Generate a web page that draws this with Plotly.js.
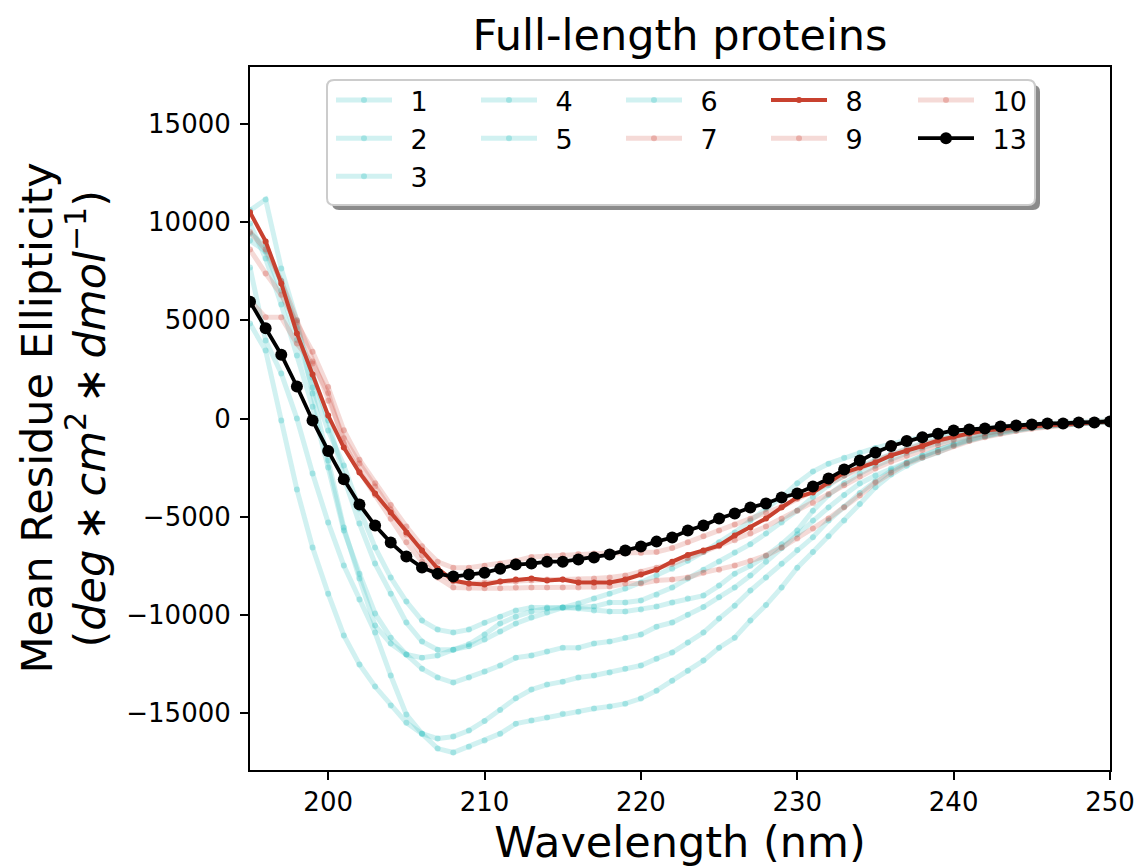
<!DOCTYPE html>
<html>
<head>
<meta charset="utf-8">
<script src="https://cdn.plot.ly/plotly-3.0.1.min.js"></script>
<style>html,body{margin:0;padding:0;background:#fff;}#chart{width:1138px;height:867px;}</style>
</head>
<body>
<div id="chart"></div>
<script>
const wavelength = [195,196,197,198,199,200,201,202,203,204,205,206,207,208,209,210,211,212,213,214,215,216,217,218,219,220,221,222,223,224,225,226,227,228,229,230,231,232,233,234,235,236,237,238,239,240,241,242,243,244,245,246,247,248,249,250];

const s1 = [9070,8500,6500,4000,1580,-610,-2390,-4600,-6570,-8100,-9320,-10290,-10750,-10900,-10750,-10400,-10090,-9780,-9630,-9630,-9630,-9420,-9170,-8920,-8660,-8350,-8000,-7650,-7250,-6800,-6300,-5800,-5200,-4600,-4000,-3300,-2700,-2300,-2000,-1750,-1500,-1280,-1100,-950,-800,-680,-580,-500,-420,-360,-300,-250,-220,-180,-150,-120];
const s2 = [9420,8800,7000,4640,2090,-100,-3000,-5350,-7390,-8920,-10390,-11360,-11770,-11770,-11500,-11000,-10440,-10090,-9830,-9680,-9630,-9630,-9580,-9370,-9370,-9270,-8970,-8610,-8150,-7700,-7280,-6830,-6400,-5860,-5300,-4690,-4000,-3400,-2900,-2450,-2100,-1800,-1500,-1250,-1050,-880,-740,-620,-520,-440,-370,-310,-260,-220,-180,-150];
const s3 = [10600,11150,7640,4990,1270,-2140,-5550,-8150,-10540,-11460,-12020,-12180,-12070,-11770,-11600,-11260,-10850,-10440,-10140,-9880,-9630,-9680,-9780,-9830,-9830,-9730,-9580,-9370,-9170,-9020,-8510,-7900,-7500,-7000,-6400,-5700,-4700,-3900,-3300,-2800,-2400,-2050,-1750,-1480,-1250,-1050,-880,-740,-620,-520,-430,-360,-300,-250,-200,-160];
const s4 = [9930,8150,5800,3210,600,-2500,-5700,-7900,-9930,-11160,-12020,-12740,-13190,-13450,-13190,-12890,-12580,-12180,-12070,-11870,-11670,-11670,-11460,-11360,-11160,-11000,-10600,-10390,-10000,-9600,-9100,-8600,-8000,-7300,-6600,-5900,-5200,-4530,-3900,-3310,-2900,-2550,-2240,-1900,-1600,-1330,-1100,-900,-740,-600,-480,-390,-320,-260,-210,-160];
const s5 = [7690,3970,2290,0,-2800,-5300,-7490,-9220,-10900,-13090,-15080,-16050,-16300,-16200,-15890,-15400,-14850,-14250,-13800,-13550,-13400,-13190,-13090,-12940,-12740,-12580,-12230,-11920,-11410,-10900,-10190,-9530,-8760,-8100,-7400,-6700,-6050,-5200,-4500,-3800,-3200,-2650,-2250,-1900,-1600,-1300,-1050,-850,-700,-560,-450,-370,-300,-250,-200,-150];
const s6 = [4840,3460,-100,-3620,-6570,-8920,-11050,-12530,-13650,-14620,-15490,-16050,-16810,-17010,-16710,-16400,-16050,-15540,-15380,-15230,-15030,-14930,-14770,-14670,-14520,-14260,-13860,-13350,-12840,-12330,-11670,-11160,-10290,-9500,-8600,-7600,-6800,-6000,-5200,-4350,-3500,-2850,-2400,-2000,-1730,-1380,-1120,-900,-720,-580,-470,-380,-310,-250,-200,-150];
const s7 = [8600,7390,6300,4900,3400,1600,-600,-2100,-3300,-4400,-5500,-6500,-7300,-7600,-7600,-7500,-7400,-7250,-7050,-7000,-6950,-6900,-6880,-6850,-6850,-6850,-6800,-6600,-6300,-6000,-5700,-5400,-5100,-4800,-4500,-4100,-3700,-3300,-2900,-2500,-2150,-1850,-1550,-1300,-1100,-900,-750,-620,-520,-430,-360,-300,-250,-200,-170,-130];
const s8 = [10500,9020,6880,4330,2240,150,-1480,-2750,-3820,-4790,-5800,-6720,-7640,-8250,-8400,-8450,-8300,-8200,-8150,-8250,-8200,-8350,-8350,-8350,-8200,-7950,-7700,-7290,-6950,-6720,-6470,-5960,-5550,-5090,-4530,-4020,-3770,-3260,-2750,-2500,-2240,-1880,-1650,-1400,-1120,-920,-760,-610,-510,-460,-400,-350,-300,-250,-200,-150];
const s9 = [9500,8600,7000,5000,2900,900,-1000,-2290,-3460,-4640,-5910,-6980,-7850,-8300,-8400,-8350,-8300,-8300,-8250,-8200,-8200,-8200,-8150,-8100,-8000,-7800,-7600,-7400,-7100,-6800,-6500,-6200,-5850,-5500,-5100,-4700,-4300,-3850,-3400,-2950,-2550,-2200,-1900,-1600,-1350,-1100,-900,-750,-620,-520,-430,-360,-300,-250,-200,-160];
const s10 = [6000,5150,5150,3820,2800,1300,-1270,-2700,-3900,-5100,-6300,-7300,-8100,-8610,-8650,-8650,-8650,-8600,-8610,-8600,-8610,-8600,-8580,-8560,-8400,-8400,-8250,-8200,-8100,-7850,-7700,-7490,-7250,-6980,-6570,-6110,-5600,-5090,-4530,-3920,-3260,-2750,-2290,-1990,-1700,-1400,-1150,-950,-780,-640,-520,-420,-340,-270,-210,-160];
const s13 = [5950,4600,3250,1630,-100,-1650,-3100,-4380,-5450,-6320,-7030,-7590,-7900,-8050,-7950,-7850,-7650,-7440,-7390,-7290,-7290,-7180,-7080,-6930,-6720,-6520,-6270,-6060,-5700,-5450,-5090,-4840,-4530,-4330,-4020,-3820,-3460,-3060,-2600,-2140,-1730,-1400,-1150,-950,-780,-610,-560,-510,-410,-360,-310,-250,-250,-200,-200,-150];

const seriesNames = ['1','2','3','4','5','6','7','8','9','10','13'];
const seriesValues = [s1,s2,s3,s4,s5,s6,s7,s8,s9,s10,s13];
const legendColumn = {'1':0,'2':0,'3':0,'4':1,'5':1,'6':2,'7':2,'8':3,'9':3,'10':4,'13':4};

const yTickVals = [-15000,-10000,-5000,0,5000,10000,15000];
const yTickText = ['−15000','−10000','−5000','0','5000','10000','15000'];
const xTickVals = [200,210,220,230,240,250];
const titleText = 'Full-length proteins';
const xTitleText = 'Wavelength (nm)';
const yTitleLine1 = 'Mean Residue Ellipticity';
const yTitleLine2 = '(<i>deg</i>\u2009∗\u2009<i>cm</i><sup>2</sup>\u2009∗\u2009<i>dmol</i><sup>−1</sup>)';

const CYAN_LINE = 'rgba(64,196,196,0.24)';
const CYAN_MARK = 'rgba(64,196,196,0.34)';
const PINK_LINE = 'rgba(205,70,55,0.2)';
const PINK_MARK = 'rgba(205,70,55,0.3)';
const RED = '#c8412f';

function styleFor(name){
  const n = parseInt(name,10);
  if (n <= 6) return {line:{color:CYAN_LINE,width:5}, marker:{color:CYAN_MARK,size:6}};
  if (n === 8) return {line:{color:RED,width:4}, marker:{color:RED,size:6}};
  if (n === 13) return {line:{color:'#000000',width:3.8}, marker:{color:'#000000',size:12}};
  return {line:{color:PINK_LINE,width:5}, marker:{color:PINK_MARK,size:6}};
}

const legendIds = ['legend','legend2','legend3','legend4','legend5'];

const traces = seriesNames.map((name,i)=>{
  const st = styleFor(name);
  return {
    type:'scatter', mode:'lines+markers', name:'\u2002' + name,
    x:wavelength, y:seriesValues[i],
    line:st.line, marker:st.marker,
    legend:legendIds[legendColumn[name]],
    hoverinfo:'skip'
  };
});

const FONT = 'DejaVu Sans, Liberation Sans, sans-serif';
const L = 250, R = 28, T = 67, B = 97, PW = 860, PH = 703;
const px2x = p => (p - L)/PW;
const px2y = p => (T + PH - p)/PH;

const box = {x0:327, y0:80, x1:1035, y1:205};
const colStart = [336, 481, 626, 771, 918];

function roundRect(x0,y0,x1,y1,r){
  const X = px2x, Y = px2y;
  return 'M' + X(x0+r) + ',' + Y(y0) +
    ' L' + X(x1-r) + ',' + Y(y0) + ' Q' + X(x1) + ',' + Y(y0) + ' ' + X(x1) + ',' + Y(y0+r) +
    ' L' + X(x1) + ',' + Y(y1-r) + ' Q' + X(x1) + ',' + Y(y1) + ' ' + X(x1-r) + ',' + Y(y1) +
    ' L' + X(x0+r) + ',' + Y(y1) + ' Q' + X(x0) + ',' + Y(y1) + ' ' + X(x0) + ',' + Y(y1-r) +
    ' L' + X(x0) + ',' + Y(y0+r) + ' Q' + X(x0) + ',' + Y(y0) + ' ' + X(x0+r) + ',' + Y(y0) + ' Z';
}

const layout = {
  width:1138, height:867,
  margin:{l:L, r:R, t:T, b:B, pad:0},
  paper_bgcolor:'#ffffff', plot_bgcolor:'#ffffff',
  font:{family:FONT, color:'#000000', size:24},
  title:{text:titleText, font:{family:FONT, size:43, color:'#000'}, x:0.5, xref:'paper', xanchor:'center', y:1-35/867, yref:'container', yanchor:'middle'},
  xaxis:{
    range:[195,250], tickmode:'array', tickvals:xTickVals,
    ticks:'outside', ticklen:8, tickwidth:2, tickcolor:'#000',
    showline:true, linecolor:'#000', linewidth:2, mirror:true,
    showgrid:false, zeroline:false,
    tickfont:{family:FONT, size:26, color:'#000'},
    title:{text:xTitleText, font:{family:FONT, size:43, color:'#000'}, standoff:10},
    automargin:false
  },
  yaxis:{
    range:[-17900,17900], tickmode:'array', tickvals:yTickVals, ticktext:yTickText,
    ticks:'outside', ticklen:8, tickwidth:2, tickcolor:'#000',
    showline:true, linecolor:'#000', linewidth:2, mirror:true,
    showgrid:false, zeroline:false, ticklabelstandoff:4,
    tickfont:{family:FONT, size:26, color:'#000'},
    automargin:false
  },
  annotations:[
    {text:yTitleLine1, xref:'paper', yref:'paper', x:px2x(36), y:0.5, xanchor:'center', yanchor:'middle', textangle:-90, showarrow:false, font:{family:FONT, size:43, color:'#000'}},
    {text:yTitleLine2, xref:'paper', yref:'paper', x:px2x(86), y:0.5, xanchor:'center', yanchor:'middle', textangle:-90, showarrow:false, font:{family:FONT, size:43, color:'#000'}}
  ],
  shapes:[
    {type:'path', xref:'paper', yref:'paper', layer:'above', path:roundRect(box.x0+5, box.y0+5, box.x1+5, box.y1+5, 7), fillcolor:'rgba(110,110,110,0.8)', line:{width:0}},
    {type:'path', xref:'paper', yref:'paper', layer:'above', path:roundRect(box.x0, box.y0, box.x1, box.y1, 7), fillcolor:'#ffffff', line:{color:'#cccccc', width:2}}
  ]
};

legendIds.forEach((id,c)=>{
  layout[id] = {
    orientation:'v', x:px2x(colStart[c]-5), y:px2y(box.y0-4), xanchor:'left', yanchor:'top',
    bgcolor:'rgba(0,0,0,0)', borderwidth:0,
    font:{family:FONT, size:27, color:'#000'},
    itemwidth:56, tracegroupgap:0, traceorder:'normal',
    itemclick:false, itemdoubleclick:false
  };
});

Plotly.newPlot('chart', traces, layout, {displayModeBar:false, staticPlot:true});
</script>
</body>
</html>
